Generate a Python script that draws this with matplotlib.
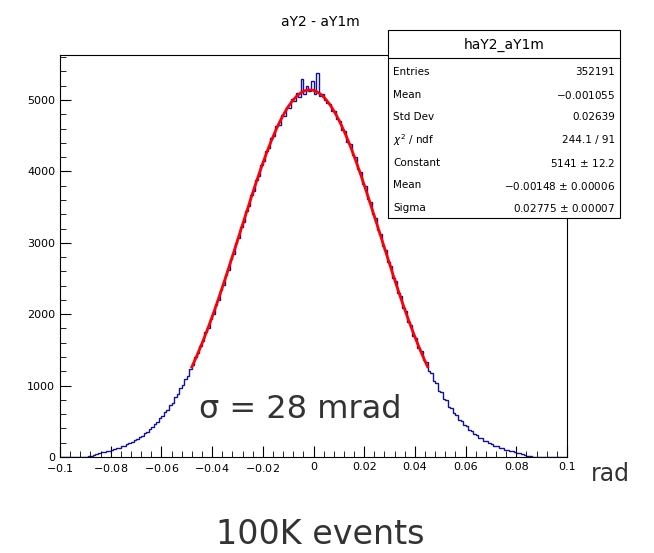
import numpy as np
import matplotlib.pyplot as plt
from matplotlib.patches import Rectangle
from matplotlib.ticker import MultipleLocator

# bin contents, 200 bins of width 0.001 from -0.1 to 0.1
counts = [0] * 11 + [
    8, 15, 30, 48, 55, 68, 72, 85, 88, 102, 108, 125, 130, 150, 158, 180, 192, 210, 236, 258,
    275, 300, 335, 355, 392, 420, 462, 492, 541, 570, 630, 665, 728, 760, 842, 880, 960, 1005, 1095, 1140,
    1238, 1290, 1395, 1450, 1560, 1620, 1745, 1805, 1930, 2000, 2130, 2200, 2340, 2410, 2550, 2625, 2770, 2850, 2995, 3070,
    3220, 3290, 3445, 3510, 3670, 3730, 3885, 3940, 4095, 4140, 4290, 4330, 4470, 4500, 4640, 4650, 4790, 4780, 4900, 4890,
    5010, 4980, 5100, 5040, 5290, 5080, 5200, 5120,
    5260, 5090, 5380, 5050, 5080, 5000, 4960, 4950, 4850, 4840, 4730, 4700, 4580, 4560, 4410, 4380, 4230, 4200, 4040, 3990,
    3830, 3790, 3620, 3570, 3400, 3350, 3180, 3120, 2950, 2900, 2730, 2670, 2510, 2460, 2300, 2250, 2090, 2040, 1890, 1845,
    1700, 1660, 1525, 1490, 1355, 1330, 1200, 1180, 1060, 1040, 930, 910, 815, 795, 705, 690, 610, 595, 525, 510,
    450, 435, 385, 370, 325, 312, 272, 262, 228, 218, 190, 182, 155, 150, 128, 122, 104, 100, 84, 80,
    66, 62, 50, 40, 28, 18, 10,
] + [0] * 14
edges = np.linspace(-0.1, 0.1, 201)

# fit result
fit_const, fit_mean, fit_sigma = 5141, -0.00148, 0.02775
fit_range = (-0.048, 0.045)

stats_labels = ["Entries", "Mean", "Std Dev", "$\\chi^2$ / ndf", "Constant", "Mean", "Sigma"]
stats_values = ["352191", "$-$0.001055", "0.02639", "244.1 / 91", "5141 $\\pm$ 12.2",
                "$-$0.00148 $\\pm$ 0.00006", "0.02775 $\\pm$ 0.00007"]

fig = plt.figure(figsize=(6.54, 5.53), dpi=100)
W, H = 654, 553
ax = fig.add_axes([60 / W, 1 - 457 / H, 507 / W, 402 / H])
ax.stairs(counts, edges, color="#1010a0", lw=1.0)
xf = np.linspace(fit_range[0], fit_range[1], 300)
ax.plot(xf, fit_const * np.exp(-0.5 * ((xf - fit_mean) / fit_sigma) ** 2), color="red", lw=2)

ax.set_xlim(-0.1, 0.1)
ax.set_ylim(0, 5630)
ax.xaxis.set_major_locator(MultipleLocator(0.02))
ax.xaxis.set_minor_locator(MultipleLocator(0.004))
ax.yaxis.set_major_locator(MultipleLocator(1000))
ax.yaxis.set_minor_locator(MultipleLocator(200))
ax.tick_params(which="both", direction="in", top=False, right=False, labelsize=8)
ax.tick_params(which="major", length=8)
ax.tick_params(which="minor", length=4)
ax.set_xticks(np.round(np.arange(-0.1, 0.1001, 0.02), 2))
ax.set_xticklabels(["$-$0.1", "$-$0.08", "$-$0.06", "$-$0.04", "$-$0.02", "0",
                    "0.02", "0.04", "0.06", "0.08", "0.1"])

fig.text(320 / W, 1 - 22 / H, "aY2 - aY1m", ha="center", va="center", fontsize=10)

# stats box
bx0, bx1, by0, by1 = 388, 620, 30, 218
fig.patches.append(Rectangle((bx0 / W, 1 - by1 / H), (bx1 - bx0) / W, (by1 - by0) / H,
                             transform=fig.transFigure, fc="white", ec="black", lw=0.8))
fig.add_artist(plt.Line2D([bx0 / W, bx1 / W], [1 - 58 / H] * 2, transform=fig.transFigure,
                          color="black", lw=0.8))
fig.text((bx0 + bx1) / 2 / W, 1 - 45 / H, "haY2_aY1m", ha="center", va="center", fontsize=10)
for k, (lab, val) in enumerate(zip(stats_labels, stats_values)):
    yy = 1 - (72 + k * 22.7) / H
    fig.text(393 / W, yy, lab, ha="left", va="center", fontsize=7.5)
    fig.text(615 / W, yy, val, ha="right", va="center", fontsize=7.5)

fig.text(300 / W, 1 - 410 / H, "σ = 28 mrad", ha="center", va="center", fontsize=23, color="#333333")
fig.text(610 / W, 1 - 474 / H, "rad", ha="center", va="center", fontsize=17, color="#333333")
fig.text(320 / W, 1 - 535 / H, "100K events", ha="center", va="center", fontsize=24, color="#333333")

fig.savefig("out.png", dpi=100)
